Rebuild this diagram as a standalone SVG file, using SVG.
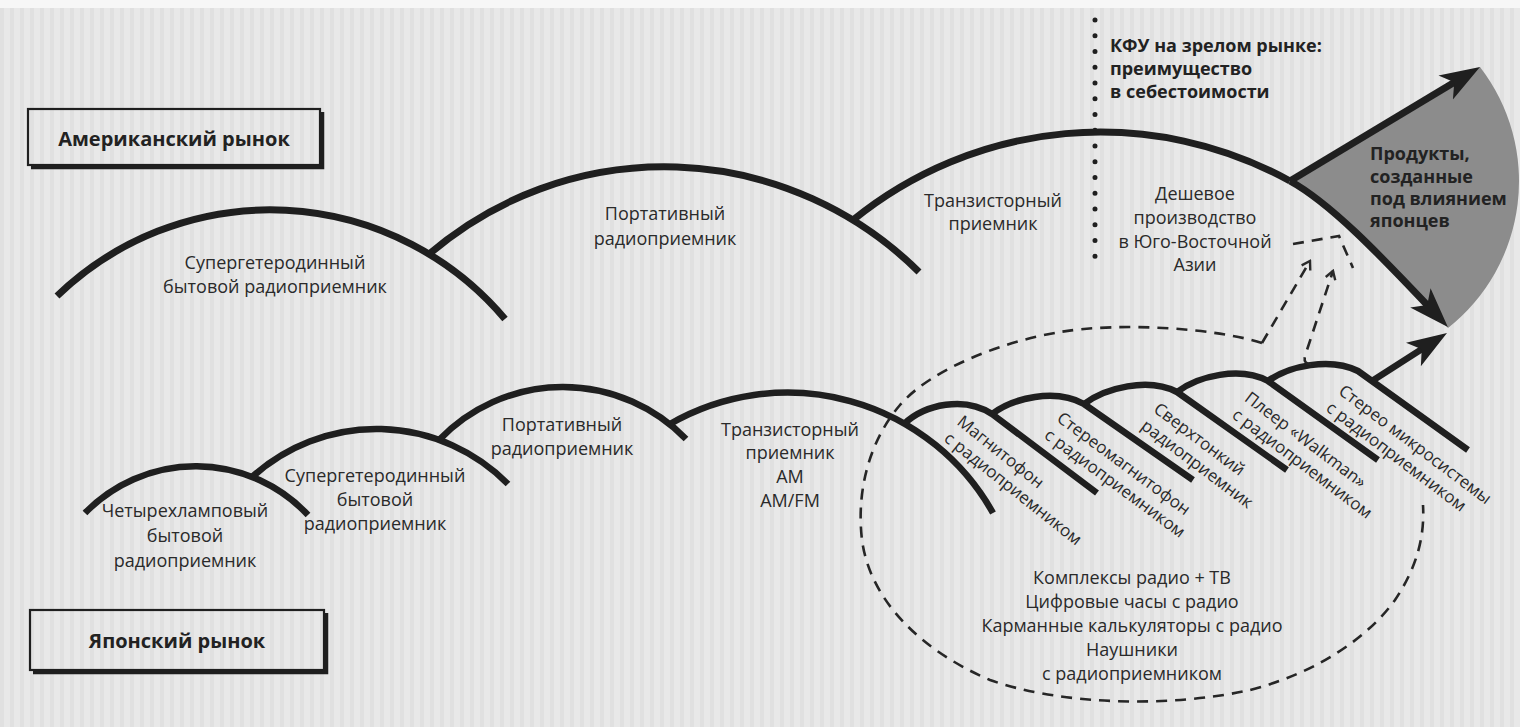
<svg xmlns="http://www.w3.org/2000/svg" width="1520" height="727" viewBox="0 0 1520 727">
  <defs>
    <!-- faint vertical streaks of the printed page -->
    <pattern id="paper" width="10" height="727" patternUnits="userSpaceOnUse">
      <rect width="10" height="727" fill="#e8e8e8"/>
      <rect x="0" width="4" height="727" fill="#e0e0e0"/>
    </pattern>
    <!-- solid barbed arrowhead; line ends 26px before the tip -->
    <marker id="head" viewBox="0 -15 42 30" markerWidth="42" markerHeight="30" refX="14" refY="0" orient="auto" markerUnits="userSpaceOnUse">
      <path d="M40,0 L0,-14 L10,0 L0,14 Z" fill="#1f1f1f"/>
    </marker>
    <!-- small open arrowhead for the dashed links -->
    <marker id="openHead" viewBox="-10 -7 12 14" markerWidth="12" markerHeight="14" refX="0" refY="0" orient="auto" markerUnits="userSpaceOnUse">
      <path d="M-8,-5 L0,0 L-8,5" fill="none" stroke="#2a2a2a" stroke-width="2.4"/>
    </marker>
    <style>
      .ln { fill: none; stroke: #1f1f1f; stroke-width: 7; stroke-linecap: butt; }
      .ln2 { fill: none; stroke: #1f1f1f; stroke-width: 6.5; stroke-linecap: butt; stroke-linejoin: round; }
      .box { fill: none; stroke: #1f1f1f; stroke-width: 2.2; }
      .shadow { fill: none; stroke: #1f1f1f; stroke-width: 4.5; }
      .dash { fill: none; stroke: #262626; stroke-width: 2.6; stroke-dasharray: 11 8; }
      .t { font-family: "Open Sans", "Noto Sans", "DejaVu Sans", sans-serif; font-size: 18px; font-weight: 500; fill: #2a2a2a; text-anchor: middle; }
      .b { font-weight: 700; fill: #222; }
      .big { font-size: 20px; }
      .left { text-anchor: start; }
      .rot { font-size: 17px; text-anchor: start; }
    </style>
  </defs>

  <!-- page -->
  <rect width="1520" height="727" fill="url(#paper)"/>
  <rect width="1520" height="8" fill="#f7f7f7"/>

  <!-- shaded wedge: products shaped by Japanese makers -->
  <g id="japan-influenced">
    <path d="M1290,181 L1480,67 A187,187 0 0 1 1448,328 L1430,308 C1380,255 1330,203 1290,181 Z" fill="#8c8c8c"/>
    <text class="t b left" x="1370" y="160">Продукты,</text>
    <text class="t b left" x="1370" y="183">созданные</text>
    <text class="t b left" x="1370" y="205">под влиянием</text>
    <text class="t b left" x="1370" y="227">японцев</text>
  </g>

  <!-- market headers -->
  <g id="market-us">
    <rect class="box" x="28" y="109" width="292" height="56"/>
    <path class="shadow" d="M322,112 V167 H31"/>
    <text class="t b big" x="174" y="146">Американский рынок</text>
  </g>
  <g id="market-jp">
    <rect class="box" x="30" y="610" width="294" height="60"/>
    <path class="shadow" d="M326,613 V672 H33"/>
    <text class="t b big" x="177" y="648">Японский рынок</text>
  </g>

  <!-- cost-advantage boundary -->
  <g id="mature-market">
    <line x1="1095" y1="20" x2="1095" y2="272" stroke="#1f1f1f" stroke-width="5" stroke-linecap="round" stroke-dasharray="0 15.75"/>
    <text class="t b left" x="1110" y="52" font-size="17">КФУ на зрелом рынке:</text>
    <text class="t b left" x="1110" y="75" font-size="17">преимущество</text>
    <text class="t b left" x="1110" y="98" font-size="17">в себестоимости</text>
  </g>

  <!-- American product generations -->
  <g id="us-superhet">
    <path class="ln" d="M57,296 A307,307 0 0 1 505,319"/>
    <text class="t" x="275" y="269">Супергетеродинный</text>
    <text class="t" x="275" y="293">бытовой радиоприемник</text>
  </g>
  <g id="us-portable">
    <path class="ln" d="M428,255 A361,361 0 0 1 919,272"/>
    <text class="t" x="665" y="220">Портативный</text>
    <text class="t" x="665" y="245">радиоприемник</text>
  </g>
  <g id="us-transistor">
    <path class="ln" d="M853,220 A392,392 0 0 1 1290,181"/>
    <text class="t" x="993" y="207">Транзисторный</text>
    <text class="t" x="993" y="230">приемник</text>
  </g>
  <g id="us-offshore">
    <text class="t" x="1195" y="200">Дешевое</text>
    <text class="t" x="1195" y="224">производство</text>
    <text class="t" x="1195" y="248">в Юго-Восточной</text>
    <text class="t" x="1195" y="271">Азии</text>
  </g>

  <!-- Japanese product generations -->
  <g id="jp-tube">
    <path class="ln2" d="M85,513 A154,154 0 0 1 308,515"/>
    <text class="t" x="185" y="517">Четырехламповый</text>
    <text class="t" x="185" y="542">бытовой</text>
    <text class="t" x="185" y="567">радиоприемник</text>
  </g>
  <g id="jp-superhet">
    <path class="ln2" d="M252,477 A185,185 0 0 1 508,484"/>
    <text class="t" x="375" y="482">Супергетеродинный</text>
    <text class="t" x="375" y="506">бытовой</text>
    <text class="t" x="375" y="530">радиоприемник</text>
  </g>
  <g id="jp-portable">
    <path class="ln2" d="M439,440 A171.6,171.6 0 0 1 686,439"/>
    <text class="t" x="562" y="431">Портативный</text>
    <text class="t" x="562" y="455">радиоприемник</text>
  </g>
  <g id="jp-transistor">
    <path class="ln2" d="M670,424 A235.6,235.6 0 0 1 993,513"/>
    <text class="t" x="790" y="436">Транзисторный</text>
    <text class="t" x="790" y="459">приемник</text>
    <text class="t" x="790" y="483">AM</text>
    <text class="t" x="790" y="507">AM/FM</text>
  </g>
  <g id="jp-recorder">
    <path class="ln2" d="M904,424 C925,404 965,396 992,414 L1097,493"/>
    <g transform="translate(992,414) rotate(38.5)">
      <text class="t rot" x="-22" y="30">Магнитофон</text>
      <text class="t rot" x="-22" y="51">с радиоприемником</text>
    </g>
  </g>
  <g id="jp-stereo-recorder">
    <path class="ln2" d="M992,414 C1013,398 1055,388 1084,404 L1193,480"/>
    <g transform="translate(1084,404) rotate(36.5)">
      <text class="t rot" x="-13" y="30">Стереомагнитофон</text>
      <text class="t rot" x="-13" y="51">с радиоприемником</text>
    </g>
  </g>
  <g id="jp-slim">
    <path class="ln2" d="M1084,404 C1105,388 1148,377 1177,392 L1287,470"/>
    <g transform="translate(1177,392) rotate(37)">
      <text class="t rot" x="-8" y="30">Сверхтонкий</text>
      <text class="t rot" x="-8" y="51">радиоприемник</text>
    </g>
  </g>
  <g id="jp-walkman">
    <path class="ln2" d="M1177,392 C1198,376 1240,366 1268,381 L1378,460"/>
    <g transform="translate(1268,381) rotate(37)">
      <text class="t rot" x="-8" y="30">Плеер «Walkman»</text>
      <text class="t rot" x="-8" y="51">с радиоприемником</text>
    </g>
  </g>
  <g id="jp-micro">
    <path class="ln2" d="M1268,381 C1289,366 1330,357 1358,371 L1468,450"/>
    <g transform="translate(1358,371) rotate(37)">
      <text class="t rot" x="-3" y="30">Стерео микросистемы</text>
      <text class="t rot" x="-3" y="51">с радиоприемником</text>
    </g>
  </g>
  <g id="jp-other">
    <text class="t" x="1132" y="584">Комплексы радио + ТВ</text>
    <text class="t" x="1132" y="608">Цифровые часы с радио</text>
    <text class="t" x="1132" y="632">Карманные калькуляторы с радио</text>
    <text class="t" x="1132" y="656">Наушники</text>
    <text class="t" x="1132" y="680">с радиоприемником</text>
  </g>

  <!-- connectors -->
  <g id="connectors">
    <path class="ln" d="M1290,181 L1457.7,80.3" marker-end="url(#head)"/>
    <path class="ln" d="M1290,181 C1330,203 1378,253 1430,308" marker-end="url(#head)"/>
    <path class="ln2" d="M1372,381 L1425.1,347" marker-end="url(#head)"/>

    <!-- dashed loop around the Japanese spin-offs; both ends turn into arrows -->
    <path class="dash" d="M1262,343 C1215,328 1120,322 1060,332 C1000,342 930,370 900,405 C870,440 856,490 862,540 C870,600 920,650 990,680 C1060,705 1170,708 1250,690 C1320,672 1370,635 1395,600 C1415,570 1425,540 1423,505"/>
    <path class="dash" d="M1262,343 L1310,261" marker-end="url(#openHead)"/>
    <path class="dash" d="M1311,364 Q1303,364 1305,356 L1333,271" marker-end="url(#openHead)"/>
    <path class="dash" d="M1293,244 L1339,236 L1353,268"/>
  </g>
</svg>
